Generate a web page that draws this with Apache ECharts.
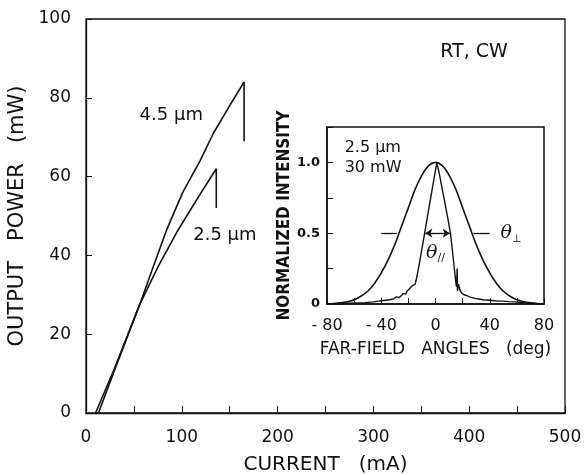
<!DOCTYPE html>
<html>
<head>
<meta charset="utf-8">
<script src="https://cdn.jsdelivr.net/npm/echarts@6/dist/echarts.min.js"></script>
<style>
html,body{margin:0;padding:0;background:#fff;}
#c{width:587px;height:475px;}
</style>
</head>
<body>
<div id="c"></div>
<script>
// ---- main chart data: output power (mW) vs current (mA) ----
const curve45 = [[13,0],[30,11],[56,27.5],[70,37],[85,47],[101,56],[119,64],[133,71],[150,78],[165,84],[165,69]];
const curve25 = [[10,0],[30,11.5],[56,27.5],[75,37],[95,46],[119,55.5],[136,62],[136,52]];
const mainXTicks = [0,100,200,300,400,500];
const mainYTicks = [0,20,40,60,80,100];

// ---- inset data: normalized intensity vs far-field angle (deg) ----
const farPerp = [[-80,0],[-75,0.003],[-70,0.008],[-65,0.016],[-60,0.03],[-55,0.055],[-50,0.09],[-45,0.145],[-40,0.22],[-35,0.31],[-30,0.42],[-25,0.55],[-20,0.68],[-15,0.81],[-10,0.91],[-5,0.977],[0,1.0],
  [5,0.977],[10,0.91],[15,0.81],[20,0.68],[25,0.55],[30,0.42],[35,0.31],[40,0.22],[45,0.145],[50,0.09],[55,0.055],[60,0.03],[65,0.016],[70,0.008],[75,0.003],[80,0]];
const farPar = [[-80,0],[-72,0.002],[-65,0.005],[-58,0.008],[-52,0.01],[-46,0.015],[-42,0.02],[-38,0.025],[-34,0.03],[-31,0.035],[-29,0.05],[-27,0.045],[-25,0.06],[-24,0.075],[-22,0.07],[-21,0.09],[-20,0.085],[-19,0.11],[-18,0.1],[-17,0.13],[-16,0.12],[-15,0.14],
  [-14,0.18],[-12,0.28],[-10,0.39],[-8,0.5],[-5,0.67],[-3,0.78],[-1,0.89],[1,1.0],[3,0.91],[5,0.81],[7,0.71],[9,0.61],[11,0.5],[12,0.42],[13,0.33],[14,0.24],[15,0.15],[15.5,0.12],[16,0.25],[16.2,0.09],
  [17,0.14],[18,0.1],[19,0.08],[20,0.09],[21,0.065],[23,0.06],[25,0.05],[27,0.045],[29,0.04],[32,0.035],[35,0.03],[38,0.028],[42,0.025],[46,0.02],[50,0.02],[54,0.017],[58,0.015],[62,0.012],[66,0.01],[70,0.006],[75,0.003],[80,0]];
const insetXTicks = [-80,-40,0,40,80];
const insetYTicks = {0:'0',0.5:'0.5',1:'1.0'};

const FONT = 'DejaVu Sans';
const INK = '#111';

function note(coord, text, align, size, rich){
  return {
    coord: coord, symbol: 'circle', symbolSize: 0,
    label: { show: true, formatter: text, position: [0,0], align: align, verticalAlign: 'middle',
      color: INK, fontFamily: FONT, fontSize: size, rich: rich || {} }
  };
}
const thetaRich = {
  t: {fontFamily:'DejaVu Serif', fontStyle:'italic', fontSize:19, color:INK, lineHeight:22, verticalAlign:'middle'},
  s: {fontFamily:FONT, fontSize:11, color:INK, lineHeight:22, verticalAlign:'bottom'},
  n: {fontFamily:FONT, fontSize:17, color:INK, lineHeight:22, verticalAlign:'middle'}
};

const chart = echarts.init(document.getElementById('c'), null, {renderer:'canvas'});
chart.setOption({
  animation: false,
  backgroundColor: '#fff',
  grid: [
    {left: 86, top: 19, right: 22, bottom: 62, show: true, borderColor: INK, borderWidth: 1.3,
     backgroundColor: 'transparent', containLabel: false, outerBoundsMode: 'none'},
    {left: 327, top: 127, width: 217, height: 177, show: true, borderColor: INK, borderWidth: 1.5,
     backgroundColor: '#fff', containLabel: false, outerBoundsMode: 'none'}
  ],
  xAxis: [
    {gridIndex:0, type:'value', min:0, max:500, interval:50,
     name:'CURRENT   (mA)', nameLocation:'middle', nameGap:42,
     nameTextStyle:{fontFamily:FONT, fontSize:20, color:INK},
     axisLine:{onZero:false, lineStyle:{color:INK, width:1.3}},
     axisTick:{inside:true, length:7, lineStyle:{color:INK}},
     splitLine:{show:false},
     axisLabel:{margin:16, fontFamily:FONT, fontSize:17, color:INK,
       formatter: v => mainXTicks.indexOf(v) >= 0 ? String(v) : ''}},
    {gridIndex:1, type:'value', min:-80, max:80, interval:20,
     name:'FAR-FIELD   ANGLES   (deg)', nameLocation:'middle', nameGap:37,
     nameTextStyle:{fontFamily:FONT, fontSize:17, color:INK},
     axisLine:{onZero:false, lineStyle:{color:INK, width:1.5}},
     axisTick:{inside:true, length:6, lineStyle:{color:INK}},
     splitLine:{show:false},
     axisLabel:{margin:14, fontFamily:FONT, fontSize:16, color:INK,
       formatter: v => insetXTicks.indexOf(v) >= 0 ? String(v).replace('-', '- ') : ''}}
  ],
  yAxis: [
    {gridIndex:0, type:'value', min:0, max:100, interval:20,
     name:'OUTPUT   POWER   (mW)', nameLocation:'middle', nameGap:47,
     nameTextStyle:{fontFamily:FONT, fontSize:21, color:INK},
     axisLine:{onZero:false, lineStyle:{color:INK, width:1.3}},
     axisTick:{inside:true, length:6, lineStyle:{color:INK}},
     splitLine:{show:false},
     axisLabel:{margin:15, fontFamily:FONT, fontSize:17, color:INK,
       formatter: v => mainYTicks.indexOf(v) >= 0 ? String(v) : ''}},
    {gridIndex:1, type:'value', min:0, max:1.25, interval:0.25,
     name:'NORMALIZED INTENSITY', nameLocation:'middle', nameGap:29,
     nameTextStyle:{fontFamily:'DejaVu Sans Condensed', fontWeight:'bold', fontSize:17, color:INK},
     axisLine:{onZero:false, lineStyle:{color:INK, width:1.5}},
     axisTick:{inside:true, length:6, lineStyle:{color:INK}},
     splitLine:{show:false},
     axisLabel:{margin:7, fontFamily:FONT, fontWeight:'bold', fontSize:13, color:INK,
       formatter: v => (insetYTicks[v] !== undefined ? insetYTicks[v] : '')}}
  ],
  series: [
    {name:'4.5 µm', type:'line', xAxisIndex:0, yAxisIndex:0, data:curve45, showSymbol:false, symbol:'none',
     lineStyle:{color:INK, width:1.6}, z:3,
     markPoint:{silent:true, data:[
       note([89,75.5], '4.5 µm', 'center', 18),
       note([145,45], '2.5 µm', 'center', 18),
       note([405,91.5], 'RT, CW', 'center', 19)
     ]}},
    {name:'2.5 µm', type:'line', xAxisIndex:0, yAxisIndex:0, data:curve25, showSymbol:false, symbol:'none',
     lineStyle:{color:INK, width:1.6}, z:3},
    {name:'perp', type:'line', xAxisIndex:1, yAxisIndex:1, data:farPerp, showSymbol:false, symbol:'none',
     smooth:0.3, lineStyle:{color:INK, width:1.6}, z:5,
     markLine:{silent:true, symbol:['none','arrow'], symbolSize:[0,9], label:{show:false},
       lineStyle:{color:INK, width:1.3, type:'solid'},
       data:[
         [{coord:[-40,0.5]},{coord:[-28.5,0.5]}],
         [{coord:[40,0.5]},{coord:[28,0.5]}]
       ]},
     markPoint:{silent:true, data:[
       note([-67,1.1], '2.5 µm', 'left', 16),
       note([-67,0.96], '30 mW', 'left', 16),
       note([81,1.1], '{t|θ}{s|⊥}{n|= 54°}', 'right', 17, thetaRich),
       note([81,0.875], '{t|θ}{s|//}{n|= 19°}', 'right', 17, thetaRich),
       note([48,0.5], '{t|θ}{s|⊥}', 'left', 17, thetaRich),
       note([0,0.36], '{t|θ}{s|//}', 'center', 17, thetaRich)
     ]}},
    {name:'par', type:'line', xAxisIndex:1, yAxisIndex:1, data:farPar, showSymbol:false, symbol:'none',
     lineStyle:{color:INK, width:1.4}, z:5,
     markLine:{silent:true, symbol:['arrow','arrow'], symbolSize:[7,7], label:{show:false},
       lineStyle:{color:INK, width:1.3, type:'solid'},
       data:[[{coord:[-7.5,0.5]},{coord:[10.5,0.5]}]]}}
  ]
});
</script>
</body>
</html>
